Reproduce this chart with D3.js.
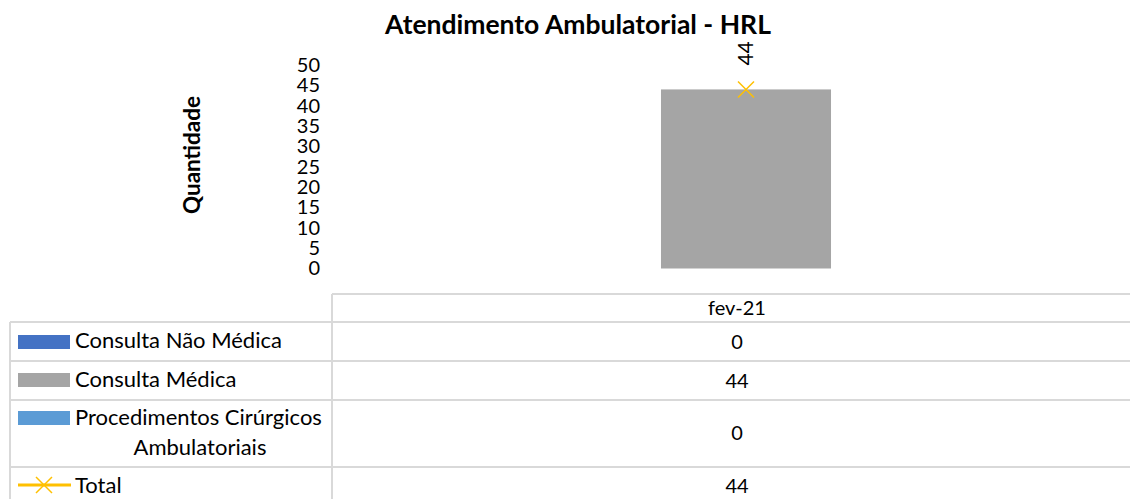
<!DOCTYPE html>
<html>
<head>
<meta charset="utf-8">
<script src="https://cdn.jsdelivr.net/npm/d3@7"></script>
<style>
  body { margin: 0; background: #fff; }
  svg text { font-family: Lato, "Noto Sans", sans-serif; fill: #000; }
</style>
</head>
<body>
<div id="chart"></div>
<script>
// data
var categories = ["fev-21"];
var seriesNames = ["Consulta Não Médica", "Consulta Médica", "Procedimentos Cirúrgicos Ambulatoriais", "Total"];
var naoMedica = [0];
var medica = [44];
var procedimentos = [0];
var total = [44];
var yTicks = [0, 5, 10, 15, 20, 25, 30, 35, 40, 45, 50];

(function() {
    var width = 1130,
        height = 499;

    var colors = ["#4472C4", "#A5A5A5", "#5B9BD5", "#FFC000"];

    var svg = d3.select("#chart")
        .append("svg")
        .attr("width", width)
        .attr("height", height);

    // plot area (runs a little past the right edge, like the original)
    var x = d3.scaleBand().domain(categories).range([332, 1160]).paddingInner(0).paddingOuter(1.935);
    var y = d3.scaleLinear().domain([0, 50]).range([268.5, 65]);

    svg.append("text")
        .attr("x", 578)
        .attr("y", 34)
        .attr("text-anchor", "middle")
        .style("font-size", "26.5px")
        .style("font-weight", "bold")
        .text("Atendimento Ambulatorial - HRL");

    // y axis labels only, no lines
    var yAxis = svg.append("g")
        .attr("transform", "translate(320,0)")
        .call(d3.axisLeft(y).tickValues(yTicks).tickSize(0).tickPadding(0));
    yAxis.select(".domain").remove();
    yAxis.selectAll("text")
        .style("font-family", "Lato, 'Noto Sans', sans-serif")
        .style("font-size", "20px")
        .attr("fill", "#000");

    svg.append("text")
        .attr("transform", "translate(200,155) rotate(-90)")
        .attr("text-anchor", "middle")
        .style("font-size", "22.5px")
        .style("font-weight", "bold")
        .text("Quantidade");

    // stacked bars
    var stackData = categories.map(function(c, i) {
        return { cat: c, a: naoMedica[i], b: medica[i], c2: procedimentos[i] };
    });
    var stack = d3.stack().keys(["a", "b", "c2"])(stackData);

    svg.selectAll(".serie")
        .data(stack)
        .enter().append("g")
        .attr("fill", function(d, i) { return colors[i]; })
        .selectAll("rect")
        .data(function(d) { return d; })
        .enter().append("rect")
        .attr("x", function(d) { return x(d.data.cat); })
        .attr("width", x.bandwidth())
        .attr("y", function(d) { return y(d[1]); })
        .attr("height", function(d) { return y(d[0]) - y(d[1]); });

    // total marker + rotated label
    var cx = function(i) { return x(categories[i]) + x.bandwidth() / 2; };
    total.forEach(function(v, i) {
        var px = cx(i), py = y(v);
        svg.append("path")
            .attr("d", "M" + (px - 8) + "," + (py - 8) + "L" + (px + 8) + "," + (py + 8) +
                       "M" + (px - 8) + "," + (py + 8) + "L" + (px + 8) + "," + (py - 8))
            .attr("stroke", colors[3])
            .attr("stroke-width", 1.5)
            .attr("fill", "none");
        svg.append("text")
            .attr("transform", "translate(" + (px + 7) + "," + (py - 36) + ") rotate(-90)")
            .attr("text-anchor", "middle")
            .style("font-size", "21px")
            .text(v);
    });

    // data table
    var lineColor = "#D9D9D9";
    var colL = 332, colR = 1142, tableLeft = 10;
    var rowLines = [294, 322, 361, 400, 467, 499];
    var tbl = svg.append("g").attr("stroke", lineColor).attr("stroke-width", 2);

    tbl.append("line").attr("x1", colL).attr("x2", width).attr("y1", rowLines[0]).attr("y2", rowLines[0]);
    rowLines.slice(1, 5).forEach(function(ry) {
        tbl.append("line").attr("x1", tableLeft).attr("x2", width).attr("y1", ry).attr("y2", ry);
    });
    tbl.append("line").attr("x1", colL).attr("x2", colL).attr("y1", rowLines[0]).attr("y2", height);
    tbl.append("line").attr("x1", tableLeft).attr("x2", tableLeft).attr("y1", rowLines[1]).attr("y2", height);

    var cellX = (colL + colR) / 2;
    svg.append("text")
        .attr("x", cellX).attr("y", 315)
        .attr("text-anchor", "middle")
        .style("font-size", "20px")
        .text(categories[0]);

    var rowValues = [naoMedica, medica, procedimentos, total];
    var valueY = [349, 388, 440, 493];
    rowValues.forEach(function(vals, r) {
        svg.append("text")
            .attr("x", cellX).attr("y", valueY[r])
            .attr("text-anchor", "middle")
            .style("font-size", "20px")
            .text(vals[0]);
    });

    // legend keys in table
    var keyY = [335, 373, 411];
    keyY.forEach(function(ky, i) {
        svg.append("rect")
            .attr("x", 18).attr("y", ky)
            .attr("width", 52).attr("height", 14)
            .attr("fill", colors[i]);
    });
    svg.append("line")
        .attr("x1", 18).attr("x2", 71).attr("y1", 485).attr("y2", 485)
        .attr("stroke", colors[3]).attr("stroke-width", 3);
    svg.append("path")
        .attr("d", "M36,477L52,493M36,493L52,477")
        .attr("stroke", colors[3]).attr("stroke-width", 1.5);

    var legendText = [
        { t: seriesNames[0], x: 75, y: 348, a: "start" },
        { t: seriesNames[1], x: 75, y: 387, a: "start" },
        { t: "Procedimentos Cirúrgicos", x: 75, y: 425, a: "start" },
        { t: "Ambulatoriais", x: 200, y: 455, a: "middle" },
        { t: seriesNames[3], x: 75, y: 493, a: "start" }
    ];
    legendText.forEach(function(d) {
        svg.append("text")
            .attr("x", d.x).attr("y", d.y)
            .attr("text-anchor", d.a)
            .style("font-size", "22px")
            .text(d.t);
    });
})();
</script>
</body>
</html>
